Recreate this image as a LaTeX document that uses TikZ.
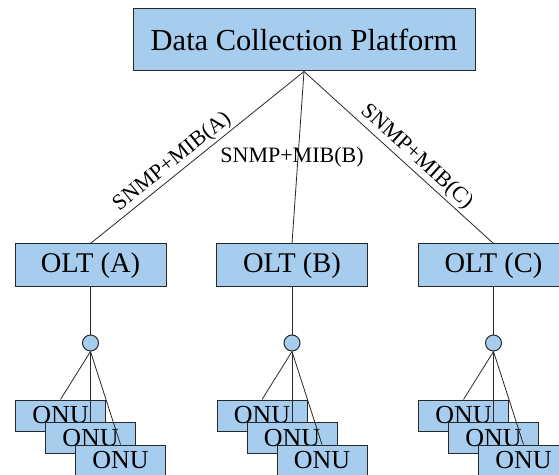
\documentclass[tikz,border=0pt]{standalone}
\usepackage{fontspec}
\setmainfont{Liberation Serif}
\usetikzlibrary{positioning}
\definecolor{boxblue}{RGB}{166,205,237}
\definecolor{edgegray}{RGB}{40,40,40}

\begin{document}
\begin{tikzpicture}[
    x=1pt, y=1pt,
    every node/.style={
        font=\rmfamily,
      },
    box/.style={draw=edgegray, fill=boxblue, line width=1pt, inner sep=0pt},
    platform/.style={box, minimum width=342pt, minimum height=62pt, font=\fontsize{30.5}{33}\selectfont},
    olt/.style={box, minimum width=151pt, minimum height=43pt, font=\fontsize{28.5}{31}\selectfont},
    onu/.style={box, minimum width=90pt, minimum height=31pt, font=\fontsize{26}{28}\selectfont},
    hub/.style={circle, draw=edgegray, fill=boxblue, line width=1pt, minimum size=16pt, inner sep=0pt},
    link/.style={draw=edgegray, line width=0.8pt},
    proto/.style={font=\fontsize{22}{24}\selectfont, inner sep=2pt},
  ]
  \clip (0,0) rectangle (559,474);
  \node[platform] (dcp) at (304,434) {Data Collection Platform};
  \foreach \g/\x in {A/90.5,B/292,C/493.5} {
      \node[olt] (olt-\g) at (\x,208.5) {OLT (\g)};
      \node[hub, below=47pt of olt-\g] (hub-\g) {};
      \draw[link] (olt-\g) -- (hub-\g);
      \foreach \i/\dx/\dy in {1/-30/-72.5,2/0/-95,3/30/-117.5} {
          \node[onu] (onu-\g-\i) at ([shift={(\dx,\dy)}]hub-\g) {ONU};
        }
      \foreach \i in {1,2,3} {
          \draw[link] (hub-\g.south) -- (onu-\g-\i.north);
        }
    }
  \draw[link] (dcp.south) -- node[proto, sloped, above, pos=0.58] {SNMP+MIB(A)} (olt-A.north);
  \draw[link] (dcp.south) -- node[proto, pos=0.5, xshift=-6pt] {SNMP+MIB(B)} (olt-B.north);
  \draw[link] (dcp.south) -- node[proto, sloped, above, pos=0.55] {SNMP+MIB(C)} (olt-C.north);
\end{tikzpicture}
\end{document}
